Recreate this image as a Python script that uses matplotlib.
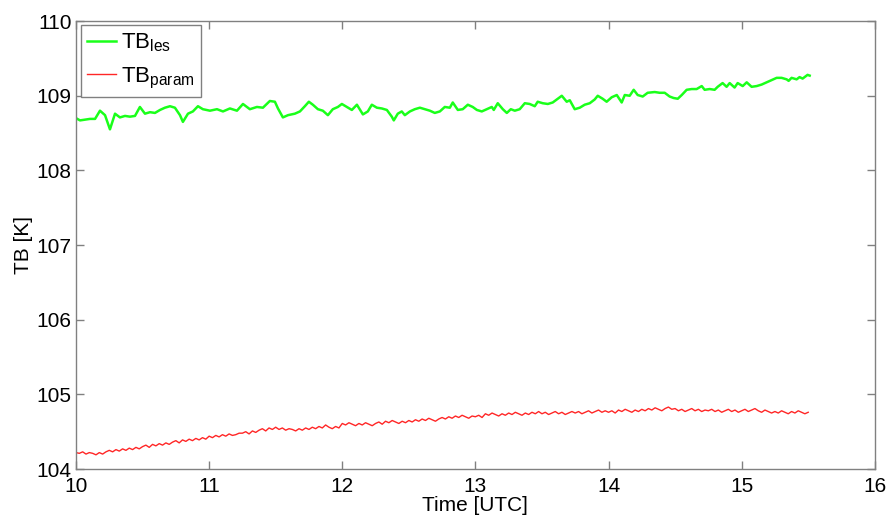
# TB time series: LES vs parametrised
import numpy as np
import matplotlib
matplotlib.use("Agg")
import matplotlib.pyplot as plt

plt.rcParams['font.family'] = ['Liberation Sans', 'DejaVu Sans']

# green series
t_les = [10.000, 10.030, 10.068, 10.105, 10.143, 10.180, 10.218, 10.255, 10.293, 10.330,
         10.368, 10.405, 10.443, 10.480, 10.518, 10.556, 10.593, 10.631, 10.668, 10.706,
         10.743, 10.781, 10.803, 10.841, 10.878, 10.916, 10.953, 11.006, 11.059, 11.104,
         11.156, 11.209, 11.254, 11.306, 11.359, 11.404, 11.456, 11.494, 11.517, 11.554,
         11.592, 11.644, 11.682, 11.719, 11.749, 11.779, 11.817, 11.854, 11.892, 11.929,
         11.967, 11.997, 12.035, 12.072, 12.110, 12.155, 12.192, 12.222, 12.260, 12.297,
         12.335, 12.372, 12.387, 12.417, 12.447, 12.470, 12.508, 12.545, 12.583, 12.620,
         12.658, 12.695, 12.733, 12.770, 12.808, 12.830, 12.868, 12.905, 12.943, 12.980,
         13.011, 13.048, 13.086, 13.123, 13.138, 13.168, 13.206, 13.236, 13.266, 13.296,
         13.333, 13.371, 13.408, 13.446, 13.468, 13.506, 13.544, 13.581, 13.619, 13.649,
         13.686, 13.709, 13.746, 13.784, 13.821, 13.859, 13.896, 13.919, 13.956, 13.986,
         14.024, 14.062, 14.099, 14.122, 14.159, 14.189, 14.219, 14.257, 14.294, 14.347,
         14.384, 14.422, 14.459, 14.489, 14.520, 14.550, 14.587, 14.625, 14.662, 14.700,
         14.722, 14.760, 14.797, 14.820, 14.857, 14.887, 14.910, 14.947, 14.970, 15.008,
         15.038, 15.075, 15.113, 15.150, 15.188, 15.225, 15.263, 15.300, 15.338, 15.353,
         15.375, 15.413, 15.435, 15.458, 15.495, 15.511]
tb_les = [108.70, 108.67, 108.68, 108.69, 108.69, 108.80, 108.74, 108.55, 108.76, 108.71,
          108.73, 108.72, 108.73, 108.85, 108.76, 108.78, 108.77, 108.81, 108.84, 108.86,
          108.84, 108.74, 108.65, 108.76, 108.79, 108.86, 108.82, 108.80, 108.82, 108.79,
          108.83, 108.80, 108.89, 108.82, 108.85, 108.84, 108.93, 108.92, 108.83, 108.71,
          108.74, 108.76, 108.79, 108.86, 108.92, 108.88, 108.82, 108.80, 108.74, 108.82,
          108.85, 108.89, 108.85, 108.81, 108.88, 108.75, 108.79, 108.88, 108.84, 108.83,
          108.81, 108.72, 108.67, 108.76, 108.79, 108.74, 108.79, 108.82, 108.84, 108.82,
          108.80, 108.77, 108.79, 108.85, 108.84, 108.91, 108.81, 108.82, 108.88, 108.85,
          108.81, 108.79, 108.82, 108.85, 108.81, 108.90, 108.82, 108.77, 108.82, 108.80,
          108.82, 108.90, 108.89, 108.86, 108.92, 108.90, 108.89, 108.91, 108.96, 109.00,
          108.92, 108.94, 108.82, 108.84, 108.88, 108.90, 108.95, 109.00, 108.96, 108.92,
          108.98, 109.01, 108.91, 109.01, 109.00, 109.08, 109.01, 108.99, 109.04, 109.05,
          109.04, 109.04, 108.99, 108.97, 108.96, 109.01, 109.08, 109.09, 109.09, 109.13,
          109.08, 109.09, 109.08, 109.12, 109.17, 109.12, 109.17, 109.11, 109.17, 109.13,
          109.18, 109.12, 109.13, 109.15, 109.18, 109.21, 109.24, 109.24, 109.22, 109.20,
          109.24, 109.22, 109.25, 109.23, 109.28, 109.27]

# red series, every 0.025 h from 10.0 to 15.5
tb_param = [104.22, 104.21, 104.23, 104.20, 104.22, 104.21, 104.19, 104.22, 104.20, 104.23,
            104.25, 104.23, 104.26, 104.24, 104.27, 104.25, 104.28, 104.26, 104.29, 104.27,
            104.30, 104.32, 104.29, 104.33, 104.31, 104.34, 104.32, 104.35, 104.33, 104.36,
            104.38, 104.35, 104.39, 104.37, 104.40, 104.38, 104.41, 104.39, 104.42, 104.40,
            104.44, 104.42, 104.45, 104.43, 104.46, 104.44, 104.47, 104.45, 104.46, 104.48,
            104.48, 104.50, 104.47, 104.51, 104.49, 104.52, 104.54, 104.51, 104.55, 104.53,
            104.56, 104.53, 104.55, 104.52, 104.54, 104.53, 104.51, 104.54, 104.52, 104.55,
            104.53, 104.56, 104.54, 104.57, 104.55, 104.59, 104.56, 104.54, 104.57, 104.55,
            104.61, 104.59, 104.62, 104.60, 104.58, 104.61, 104.59, 104.62, 104.60, 104.58,
            104.61, 104.63, 104.60, 104.64, 104.62, 104.65, 104.63, 104.61, 104.64, 104.62,
            104.65, 104.63, 104.66, 104.64, 104.67, 104.65, 104.68, 104.66, 104.64, 104.67,
            104.69, 104.67, 104.70, 104.68, 104.71, 104.69, 104.72, 104.70, 104.68, 104.71,
            104.70, 104.72, 104.69, 104.74, 104.72, 104.75, 104.73, 104.71, 104.74, 104.72,
            104.75, 104.73, 104.76, 104.74, 104.72, 104.75, 104.73, 104.76, 104.74, 104.77,
            104.74, 104.76, 104.73, 104.75, 104.77, 104.74, 104.76, 104.73, 104.75, 104.77,
            104.75, 104.77, 104.74, 104.76, 104.78, 104.75, 104.77, 104.79, 104.76, 104.78,
            104.76, 104.78, 104.75, 104.79, 104.77, 104.80, 104.78, 104.76, 104.79, 104.77,
            104.80, 104.78, 104.81, 104.79, 104.82, 104.80, 104.78, 104.81, 104.83, 104.80,
            104.81, 104.78, 104.80, 104.77, 104.79, 104.81, 104.78, 104.80, 104.77, 104.79,
            104.78, 104.80, 104.77, 104.79, 104.76, 104.78, 104.80, 104.77, 104.79, 104.76,
            104.78, 104.80, 104.77, 104.79, 104.81, 104.78, 104.76, 104.79, 104.77, 104.75,
            104.77, 104.75, 104.78, 104.76, 104.74, 104.77, 104.75, 104.78, 104.76, 104.74,
            104.76]
t_param = np.linspace(10, 15.5, len(tb_param))

x_ticks = [10, 11, 12, 13, 14, 15, 16]
y_ticks = [104, 105, 106, 107, 108, 109, 110]

fig = plt.figure(figsize=(8.89, 5.15), dpi=100)
ax = fig.add_axes([0.0855, 0.0893, 0.8985, 0.8697])

ax.plot(t_les, tb_les, color=(0.1, 1.0, 0.1), lw=1.8, label=r"TB$_\mathregular{les}$")
ax.plot(t_param, tb_param, color=(1.0, 0.15, 0.15), lw=1.0, label=r"TB$_\mathregular{param}$")

ax.set_xlim(10, 16)
ax.set_ylim(104, 110)
ax.set_xticks(x_ticks)
ax.set_yticks(y_ticks)
ax.tick_params(direction="in", top=True, right=True, length=6, width=1,
               color="#808080", labelsize=15)
ax.tick_params(axis="y", pad=3)
ax.tick_params(axis="x", pad=6)
for s in ax.spines.values():
    s.set_color("#808080")
    s.set_linewidth(1.0)

ax.set_xlabel("Time [UTC]", fontsize=15, labelpad=0)
ax.set_ylabel("TB [K]", fontsize=15, labelpad=3)

leg = ax.legend(loc="upper left", bbox_to_anchor=(0.006, 0.991), borderaxespad=0,
                fontsize=16, handlelength=1.3, handletextpad=0.2, borderpad=0.3,
                labelspacing=0.5, fancybox=False, framealpha=1)
leg.get_frame().set_edgecolor("#808080")
leg.get_frame().set_linewidth(1.0)

plt.savefig("out.png", dpi=100)
